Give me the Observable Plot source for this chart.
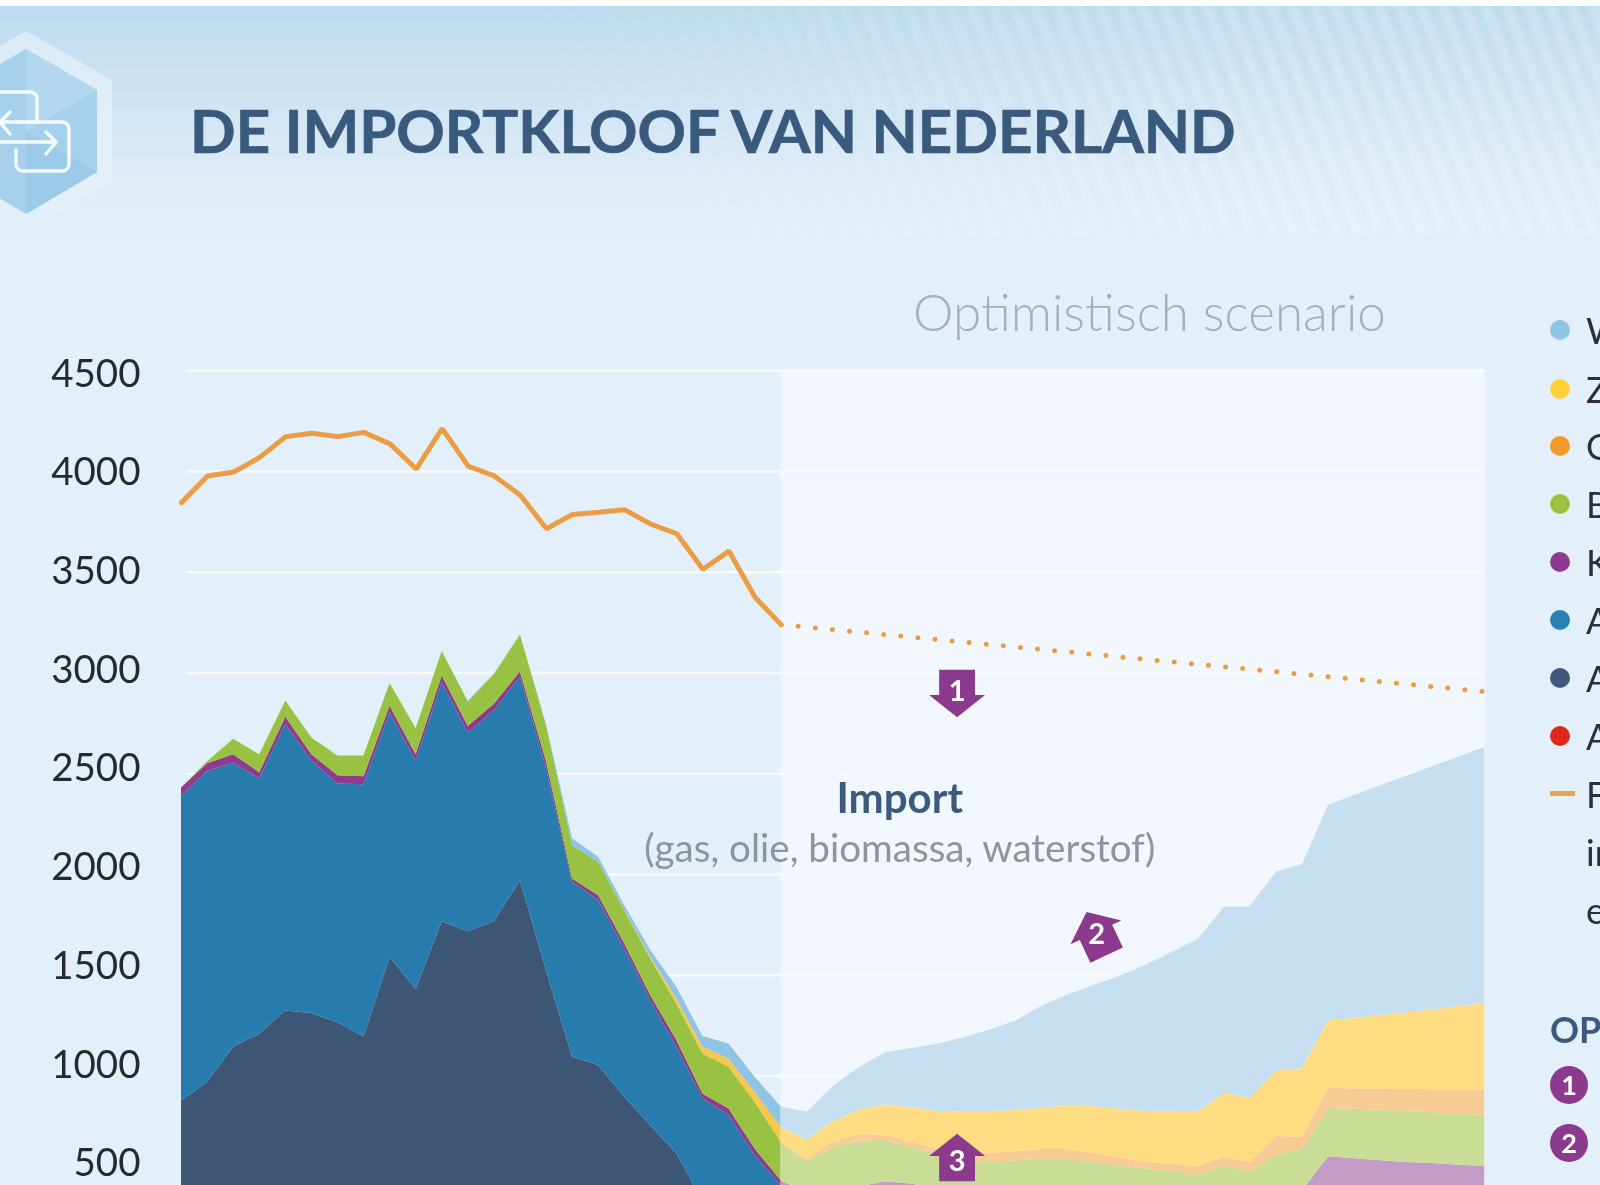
<!DOCTYPE html>
<html lang="nl"><head><meta charset="utf-8">
<script src="https://cdn.jsdelivr.net/npm/d3@7"></script>
<script src="https://cdn.jsdelivr.net/npm/@observablehq/plot@0.6"></script>
<style>
html,body{margin:0;padding:0;width:1600px;height:1185px;overflow:hidden;background:#fff}
#page{position:relative;width:1600px;height:1185px;overflow:hidden;font-family:Lato,sans-serif;filter:blur(.7px);
 background:linear-gradient(180deg,#fff 0,#fff 6px,#bcdbf0 6px,#cde3f3 90px,#dcebf7 170px,#e3f0f9 245px,#e3f0f9 100%)}
#hatch{position:absolute;left:0;top:6px;width:1600px;height:228px;
 background:repeating-linear-gradient(69deg,rgba(255,255,255,0) 0,rgba(255,255,255,.2) 6px,rgba(255,255,255,.2) 11px,rgba(255,255,255,0) 17px,rgba(255,255,255,0) 20px);
 -webkit-mask-image:linear-gradient(90deg,transparent 30%,#000 80%);mask-image:linear-gradient(90deg,transparent 30%,#000 80%)}
#icon{position:absolute;left:0;top:0}
h1{position:absolute;left:190px;top:92px;margin:0;font:700 60px/76px Lato,sans-serif;color:#3a5a7d;white-space:nowrap;-webkit-text-stroke:.7px #3a5a7d}
#chart{position:absolute;left:0;top:0}
#chart svg{display:block;background:transparent}
.lg{position:absolute;left:1586px;font-size:36px;line-height:40px;color:#2c2f33;white-space:nowrap}
.ld{position:absolute;left:1550px;width:20px;height:20px;border-radius:50%}
.lb{position:absolute;left:1550px;width:38px;height:38px;border-radius:50%;background:#8b3a8e;color:#fff;font:700 27px/38px Lato,sans-serif;text-align:center}
</style></head><body>
<div id="page">
 <div id="hatch"></div>
 <svg id="icon" width="130" height="240" viewBox="0 0 130 240">
  <defs><linearGradient id="hexFade" x1="0" y1="0" x2="0" y2="1">
   <stop offset="0" stop-color="#fff" stop-opacity=".42"/><stop offset=".6" stop-color="#fff" stop-opacity=".3"/><stop offset="1" stop-color="#fff" stop-opacity="0"/>
  </linearGradient></defs>
  <polygon points="26,31 112,80 112,184 26,232 -60,184 -60,80" fill="url(#hexFade)"/>
  <polygon points="26,49 97,90 97,172 26,214 -45,172 -45,90" fill="#a6d0ec"/>
  <polygon points="26,49 97,90 26,131" fill="#b3d7ef"/>
  <polygon points="26,214 97,172 26,131" fill="#9ccbe9"/>
  <g fill="none" stroke="#f3f9fd" stroke-width="3.5" stroke-linecap="round" stroke-linejoin="round">
   <path d="M-4 92H30a7 7 0 0 1 7 7V121"/>
   <path d="M15 122H62a7 7 0 0 1 7 7V164a7 7 0 0 1-7 7H23a7 7 0 0 1-7-7V150"/>
   <path d="M0 122H38M10 112L0 122L10 134"/>
   <path d="M0 142H56M46 132L56 142L46 154"/>
  </g>
 </svg>
 <h1>DE IMPORTKLOOF VAN NEDERLAND</h1>
 <div id="chart"></div>
 <div id="legend"></div>
</div>
<script>
const tickValues=[500,1000,1500,2000,2500,3000,3500,4000,4500];
const histYears=d3.range(2000,2024);
const futureYears=d3.range(2023,2051);

const demandHist=[3846,3978,3997,4070,4173,4190,4173,4194,4137,4012,4213,4026,3978,3882,3716,3787,3798,3810,3739,3691,3515,3605,3376,3240];
const demandFutureYears=[2023,2050];
const demandFuture=[3240,2908];

// upper edge of each stacked layer, historical part
const histGas=[876,968,1144,1208,1323,1310,1264,1194,1587,1430,1766,1716,1766,1969,1522,1093,1052,895,754,614,380,280,140,60];
const histOil=[2388,2511,2554,2475,2744,2563,2449,2445,2803,2563,2951,2702,2813,2979,2526,1962,1871,1631,1374,1143,887,804,605,456];
const histNuclear=[2430,2550,2595,2505,2780,2595,2490,2485,2835,2595,2985,2735,2845,3005,2560,1978,1895,1656,1399,1176,911,837,638,481];
const histBio=[2430,2560,2671,2594,2861,2677,2588,2588,2948,2723,3107,2856,2991,3188,2741,2144,2061,1821,1581,1358,1110,1044,870,671];
const histSun=[2430,2560,2671,2594,2861,2677,2588,2588,2948,2723,3107,2856,2991,3188,2741,2144,2061,1824,1590,1383,1143,1085,920,746];
const histWind=[2430,2560,2671,2594,2861,2677,2588,2588,2948,2723,3107,2860,2995,3188,2745,2177,2086,1846,1623,1441,1196,1159,994,848];

// upper edge of each stacked layer, scenario part
const futNuclear=[481,420,420,450,475,465,440,420,410,405,400,400,400,400,400,400,400,400,400,400,430,600,590,580,571,566,558,553];
const futBio=[665,575,645,677,682,645,608,584,571,580,586,586,571,553,540,525,507,553,525,608,636,839,835,830,824,819,811,806];
const futOther=[671,585,673,710,706,673,636,617,617,626,636,636,617,595,571,562,553,599,571,700,697,941,935,934,933,932,931,931];
const futSun=[746,680,774,830,857,843,826,821,821,830,839,854,848,835,824,821,821,913,891,1024,1038,1273,1286,1301,1314,1328,1345,1360];
const futWind=[848,821,950,1042,1116,1137,1158,1190,1227,1273,1347,1402,1449,1495,1550,1615,1679,1836,1840,2012,2049,2344,2392,2440,2488,2536,2583,2631];

const arrowYears=[2029.75,2035.1,2029.75];
const arrowValues=[2898,1707,596];
const arrowTurn=[180,-25,0];
const arrowLabels=["1","2","3"];
const arrowLabelValues=[2909,1699,576];

const legendNames=["Wind","Zon","Overig","Biomassa","Kernenergie","Aardolie","Aardgas","Afval"];
const legendColors=["#8ec6e6","#fdd035","#f39a2b","#9dc23f","#8f3a92","#2a80b5","#42587d","#e0281a"];
const legendTops=[320,379,436,494,552,610,668,726];

const BASE=457;
const purple="#8b3a8e";

const rows=(years,lo,hi)=>years.map((year,i)=>({year,lo:lo?lo[i]:BASE-400,hi:hi[i]}));
const layer=(years,lo,hi,fill)=>Plot.areaY(rows(years,lo,hi),{x:"year",y1:"lo",y2:"hi",fill,clip:true});

const arrowSymbol={draw(ctx,size){
  const r=Math.sqrt(size/Math.PI);
  ctx.moveTo(0,-.85*r);ctx.lineTo(r,-.05*r);ctx.lineTo(.64*r,-.05*r);ctx.lineTo(.64*r,.85*r);
  ctx.lineTo(-.64*r,.85*r);ctx.lineTo(-.64*r,-.05*r);ctx.lineTo(-r,-.05*r);ctx.closePath();
}};
const arrows=arrowYears.map((year,i)=>({year,v:arrowValues[i],turn:arrowTurn[i],label:arrowLabels[i],lv:arrowLabelValues[i]}));

const chart=Plot.plot({
  width:1600,height:1185,
  marginTop:0,marginBottom:0,marginLeft:181,marginRight:115.5,
  x:{domain:[2000,2050],axis:null},
  y:{domain:[BASE,6337],axis:null},
  style:{background:"transparent",overflow:"hidden"},
  marks:[
    Plot.rect([{}],{x1:()=>2023,x2:()=>2050,y1:()=>BASE,y2:()=>4500,fill:"#f2f7fd"}),
    Plot.ruleY(tickValues,{x1:()=>2000.2,x2:()=>2050,stroke:"#f7fbfe",strokeWidth:2.5}),
    layer(histYears,null,histGas,"#3d5675"),
    layer(histYears,histGas,histOil,"#287bad"),
    layer(histYears,histOil,histNuclear,"#8f3a8e"),
    layer(histYears,histNuclear,histBio,"#9ac242"),
    layer(histYears,histBio,histSun,"#f7c84a"),
    layer(histYears,histSun,histWind,"#8fc4e6"),
    layer(futureYears,null,futNuclear,"#c39cc7"),
    layer(futureYears,futNuclear,futBio,"#c9dd97"),
    layer(futureYears,futBio,futOther,"#f8ca94"),
    layer(futureYears,futOther,futSun,"#fedd82"),
    layer(futureYears,futSun,futWind,"#c6dff0"),
    Plot.line(histYears.map((year,i)=>({year,v:demandHist[i]})),{x:"year",y:"v",stroke:"#ea9d45",strokeWidth:5,strokeLinejoin:"miter"}),
    Plot.line(demandFutureYears.map((year,i)=>({year,v:demandFuture[i]})),{x:"year",y:"v",stroke:"#ea9d45",strokeWidth:5,strokeLinecap:"round",strokeDasharray:"0 17.17"}),
    Plot.text(tickValues,{x:()=>2000,y:d=>d+(4500-d)*0.0204,text:d=>String(d),dx:-41,dy:3.5,textAnchor:"end",fontSize:38.5,fill:"#26292d",fontFamily:"Lato",letterSpacing:"-2px"}),
    Plot.text(["Optimistisch scenario"],{x:()=>2037.13,y:()=>4779,text:d=>d,fontSize:51.2,fontWeight:300,fill:"#a9afb5",fontFamily:"Lato"}),
    Plot.text(["Import"],{x:()=>2027.55,y:()=>2372,text:d=>d,fontSize:42,fontWeight:700,fill:"#3b5a7e",fontFamily:"Lato"}),
    Plot.text(["(gas, olie, biomassa, waterstof)"],{x:()=>2027.55,y:()=>2122,text:d=>d,fontSize:38.6,fontWeight:400,fill:"#8d949b",fontFamily:"Lato"}),
    Plot.dot(arrows,{x:"year",y:"v",symbol:()=>arrowSymbol,r:28,rotate:"turn",fill:purple,stroke:"none"}),
    Plot.text(arrows,{x:"year",y:"lv",text:"label",fill:"#fff",fontSize:29,fontWeight:700,fontFamily:"Lato"})
  ]
});
document.getElementById("chart").append(chart);

const lg=document.getElementById("legend");
legendNames.forEach((n,i)=>{
  lg.insertAdjacentHTML("beforeend",`<div class="ld" style="top:${legendTops[i]}px;background:${legendColors[i]}"></div><div class="lg" style="top:${legendTops[i]-10}px">${n}</div>`);
});
lg.insertAdjacentHTML("beforeend",`
 <div style="position:absolute;left:1550px;top:791px;width:25px;height:5px;background:#eba24a"></div>
 <div class="lg" style="top:774px">Finale</div>
 <div class="lg" style="top:832px">inclusief</div>
 <div class="lg" style="top:890px">energie</div>
 <div class="lg" style="top:1009px;left:1550px;font-weight:700;color:#3b5a7e">OPTIES</div>
 <div class="lb" style="top:1066px">1</div>
 <div class="lb" style="top:1124px">2</div>`);
</script>
</body></html>
